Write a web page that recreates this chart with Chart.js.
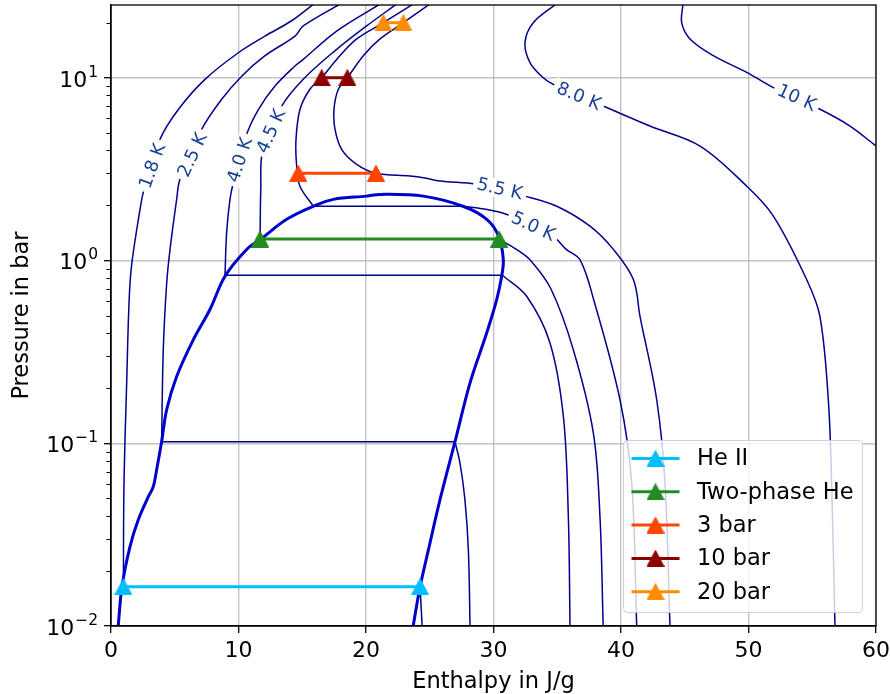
<!DOCTYPE html>
<html>
<head>
<meta charset="utf-8">
<script src="https://cdn.jsdelivr.net/npm/chart.js@4.4.1/dist/chart.umd.min.js"></script>
<style>
  html, body { margin: 0; padding: 0; background: #fff; }
  canvas { display: block; }
</style>
</head>
<body>
<canvas id="phChart" width="890" height="694"></canvas>
<script>
// helium p-h diagram: isotherms, saturation dome and cycle states
// enthalpy h in J/g, pressure p in bar

// saturation dome (left = liquid, right = vapour)
const domeH = [0.57, 0.86, 1.49, 2.14, 2.93, 3.32, 3.58, 3.97, 4.37, 5.15, 6.46, 7.76, 8.94, 10.64, 11.69, 13.78, 15.87, 17.44, 20.05, 21.1, 24.5, 27.6, 29.47, 30.4, 30.77, 30.64, 30.25, 29.47, 28.16, 26.98, 25.8, 24.89, 24.24, 23.71];
const domeP = [0.0101, 0.0164, 0.0272, 0.0381, 0.051, 0.058, 0.0716, 0.102, 0.153, 0.232, 0.369, 0.539, 0.82, 1.149, 1.30, 1.68, 1.98, 2.16, 2.25, 2.30, 2.25, 1.98, 1.68, 1.36, 1.01, 0.82, 0.611, 0.402, 0.214, 0.102, 0.049, 0.026, 0.0164, 0.0101];

// isotherms: liquid branch (top down to saturation), vapour branch (saturation down)
const t18LiqH = [15.9, 14.17, 12.08, 9.99, 7.37, 5.28, 3.84, 2.67, 2.41, 1.62, 1.42, 1.23, 1.02, 0.97];
const t18LiqP = [25.3, 20.5, 16.9, 13.7, 9.8, 6.7, 4.6, 2.55, 2.16, 0.95, 0.6, 0.214, 0.06, 0.0164];
const t18VapH = [24.24, 24.4];
const t18VapP = [0.0164, 0.0101];

const t25LiqH = [17.96, 15.08, 14.43, 12.08, 10.25, 8.68, 7.11, 5.41, 5.15, 4.63, 4.37, 4.1, 3.97];
const t25LiqP = [25.3, 19.2, 16.9, 13.2, 10.2, 7.62, 5.22, 2.78, 2.16, 1.15, 0.755, 0.325, 0.102];
const t25VapH = [26.98, 27.37, 27.76, 28.03, 28.16];
const t25VapP = [0.102, 0.078, 0.049, 0.026, 0.0101];

const t40LiqH = [21.1, 17.7, 15.08, 14.43, 12.86, 11.56, 10.64, 9.6, 9.33, 9.07, 8.94];
const t40LiqP = [25.3, 18.0, 12.6, 11.6, 9.0, 6.7, 4.9, 2.67, 2.16, 1.42, 0.83];
const t40VapH = [30.7, 32.6, 34.43, 35.48, 35.87, 36.0];
const t40VapP = [0.83, 0.637, 0.354, 0.140, 0.0397, 0.0101];

const t45LiqH = [22.4, 20.05, 17.7, 15.08, 13.39, 11.9, 11.75, 11.69];
const t45LiqP = [25.3, 19.2, 14.3, 9.82, 7.0, 4.0, 2.5, 1.31];
const t45VapH = [30.45, 31.8, 32.86, 34.5, 36.26, 37.83, 38.35, 38.6];
const t45VapP = [1.31, 1.15, 1.01, 0.7, 0.325, 0.114, 0.0397, 0.0101];

const t50LiqH = [23.7, 21.36, 19.27, 17.7, 16.52, 15.6, 14.82, 14.51, 14.56, 14.82, 15.87];
const t50LiqP = [25.3, 20.0, 16.3, 12.6, 10.0, 8.65, 6.7, 4.6, 3.29, 2.55, 1.98];
const t50VapH = [27.6, 29.5, 31.0, 33.1, 34.82, 35.7, 36.78, 37.83, 39.92, 40.84, 41.23];
const t50VapP = [1.98, 1.9, 1.79, 1.54, 1.33, 1.15, 1.01, 0.62, 0.173, 0.0605, 0.0101];

const t55H = [25.0, 22.93, 21.1, 19.79, 18.54, 17.83, 17.49, 17.57, 18.09, 19.27, 20.78, 23.45, 24.5, 25.8, 28.7, 32.47, 34.96, 37.57, 39.4, 40.97, 41.49, 42.8, 43.45, 43.84];
const t55P = [25.3, 20.0, 16.3, 13.2, 10.0, 8.65, 6.72, 5.22, 4.06, 3.36, 3.0, 2.9, 2.84, 2.72, 2.61, 2.25, 1.98, 1.54, 1.15, 0.787, 0.495, 0.173, 0.0605, 0.0101];

const t80H = [34.9, 33.12, 32.47, 32.86, 33.9, 34.82, 38.61, 42.27, 46.2, 49.86, 51.95, 54.56, 55.6, 56.26, 56.52, 56.78];
const t80P = [25.3, 20.0, 15.6, 12.1, 10.0, 9.1, 7.0, 5.44, 4.23, 2.55, 1.75, 0.787, 0.495, 0.173, 0.0605, 0.0101];

const t100H = [44.86, 44.76, 45.41, 47.24, 49.86, 51.95, 55.61, 57.96, 60.0];
const t100P = [25.3, 20.0, 16.3, 13.2, 10.7, 8.83, 6.72, 5.44, 4.23];

// contour labels
const labelText = ['1.8 K', '2.5 K', '4.0 K', '4.5 K', '5.0 K', '5.5 K', '8.0 K', '10 K'];
const labelH = [3.24, 6.38, 10.1, 12.55, 33.12, 30.5, 36.7, 53.78];
const labelP = [3.29, 3.78, 3.55, 5.1, 1.54, 2.47, 7.94, 7.79];

// cycle states
const cycleNames = ['He II', 'Two-phase He', '3 bar', '10 bar', '20 bar'];
const heIIH = [0.97, 24.24], heIIP = [0.0164, 0.0164];
const twoPhaseH = [11.69, 30.45], twoPhaseP = [1.31, 1.31];
const bar3H = [14.69, 20.78], bar3P = [3.0, 3.0];
const bar10H = [16.52, 18.54], bar10P = [10, 10];
const bar20H = [21.36, 22.93], bar20P = [20, 20];

const yTicks = [0.01, 0.1, 1, 10];

// ---- styling ----
const FONT = "'DejaVu Sans', sans-serif";
const isoColor = '#00008b';
const labelColor = '#173f94';
const labelAngle = [-70, -65, -72, -66, 25, 13, 23, 25];
const cycleColors = ['#00bfff', '#228b22', '#ff4500', '#8b0000', '#ff8c00'];

function pts(hs, ps) {
    return hs.map((h, i) => ({ x: h, y: ps[i] }));
}

function triangleMarker(color) {
    const c = document.createElement('canvas');
    c.width = 18;
    c.height = 17;
    const g = c.getContext('2d');
    g.fillStyle = color;
    g.strokeStyle = color;
    g.lineWidth = 1;
    g.beginPath();
    g.moveTo(9, 0.5);
    g.lineTo(17.5, 16.5);
    g.lineTo(0.5, 16.5);
    g.closePath();
    g.fill();
    g.stroke();
    return c;
}

function isoLine(hs, ps, tension) {
    return {
        data: pts(hs, ps),
        borderColor: isoColor,
        borderWidth: 1.5,
        pointRadius: 0,
        tension: tension,
        fill: false
    };
}

const cycles = [
    [heIIH, heIIP], [twoPhaseH, twoPhaseP], [bar3H, bar3P], [bar10H, bar10P], [bar20H, bar20P]
];
const markers = cycleColors.map(triangleMarker);

const datasets = [];
cycles.forEach((c, i) => {
    datasets.push({
        label: cycleNames[i],
        data: pts(c[0], c[1]),
        borderColor: cycleColors[i],
        backgroundColor: cycleColors[i],
        borderWidth: 3,
        pointStyle: markers[i],
        pointRadius: 9,
        tension: 0,
        fill: false
    });
});
datasets.push({
    data: pts(domeH, domeP),
    borderColor: '#0000cd',
    borderWidth: 3,
    pointRadius: 0,
    tension: 0.35,
    fill: false
});

const isotherms = [
    [t18LiqH, t18LiqP, t18VapH, t18VapP],
    [t25LiqH, t25LiqP, t25VapH, t25VapP],
    [t40LiqH, t40LiqP, t40VapH, t40VapP],
    [t45LiqH, t45LiqP, t45VapH, t45VapP],
    [t50LiqH, t50LiqP, t50VapH, t50VapP],
    [t55H, t55P],
    [t80H, t80P],
    [t100H, t100P]
];
isotherms.forEach(t => {
    datasets.push(isoLine(t[0], t[1], 0.35));
    if (t.length > 2) {
        const n = t[0].length - 1;
        datasets.push(isoLine([t[0][n], t[2][0]], [t[1][n], t[3][0]], 0));
        datasets.push(isoLine(t[2], t[3], 0.35));
    }
});

const contourLabels = {
    id: 'contourLabels',
    afterDatasetsDraw(chart) {
        const { ctx, scales: { x, y } } = chart;
        ctx.save();
        ctx.font = '18px ' + FONT;
        labelText.forEach((txt, i) => {
            const px = x.getPixelForValue(labelH[i]);
            const py = y.getPixelForValue(labelP[i]);
            const w = ctx.measureText(txt).width;
            ctx.save();
            ctx.translate(px, py);
            ctx.rotate(labelAngle[i] * Math.PI / 180);
            ctx.fillStyle = '#fff';
            ctx.fillRect(-w / 2 - 4, -9, w + 8, 18);
            ctx.fillStyle = labelColor;
            ctx.textAlign = 'center';
            ctx.textBaseline = 'middle';
            ctx.fillText(txt, 0, 1);
            ctx.restore();
        });
        ctx.restore();
    }
};

const frameAndLegend = {
    id: 'frameAndLegend',
    afterDraw(chart) {
        const { ctx, chartArea: a, scales: { y } } = chart;
        ctx.save();
        // frame
        ctx.strokeStyle = '#000';
        ctx.lineWidth = 1.3;
        ctx.strokeRect(a.left, a.top, a.right - a.left, a.bottom - a.top);
        // minor log ticks
        ctx.lineWidth = 1;
        for (let d = -2; d <= 1; d++) {
            for (let k = 2; k <= 9; k++) {
                const v = k * Math.pow(10, d);
                if (v > y.max) continue;
                const py = Math.round(y.getPixelForValue(v)) + 0.5;
                ctx.beginPath();
                ctx.moveTo(a.left - 4.5, py);
                ctx.lineTo(a.left, py);
                ctx.stroke();
            }
        }
        // y tick labels as 10 with a raised exponent
        ctx.fillStyle = '#000';
        ctx.textAlign = 'left';
        ctx.textBaseline = 'alphabetic';
        yTicks.forEach(v => {
            const e = Math.round(Math.log10(v));
            const expStr = (e < 0 ? '\u2212' : '') + Math.abs(e);
            const py = y.getPixelForValue(v);
            ctx.font = '15.5px ' + FONT;
            const wExp = ctx.measureText(expStr).width;
            ctx.font = '22px ' + FONT;
            const wBase = ctx.measureText('10').width;
            const x0 = 98 - wExp - wBase - 1;
            ctx.fillText('10', x0, py + 9);
            ctx.font = '15.5px ' + FONT;
            ctx.fillText(expStr, x0 + wBase + 1, py - 1);
        });
        // axis titles
        ctx.font = '22.5px ' + FONT;
        ctx.textAlign = 'center';
        ctx.textBaseline = 'middle';
        ctx.fillText('Enthalpy in J/g', (a.left + a.right) / 2, 682);
        ctx.save();
        ctx.translate(22, (a.top + a.bottom) / 2);
        ctx.rotate(-Math.PI / 2);
        ctx.fillText('Pressure in bar', 0, 0);
        ctx.restore();
        // legend
        const bx = 623.5, by = 440.5, bw = 239, bh = 172;
        ctx.beginPath();
        ctx.roundRect(bx, by, bw, bh, 4);
        ctx.fillStyle = 'rgba(255,255,255,0.8)';
        ctx.fill();
        ctx.strokeStyle = 'rgba(204,204,204,0.9)';
        ctx.lineWidth = 1;
        ctx.stroke();
        ctx.textAlign = 'left';
        ctx.font = '22.5px ' + FONT;
        cycleNames.forEach((name, i) => {
            const ry = 458.5 + i * 33.3;
            ctx.strokeStyle = cycleColors[i];
            ctx.lineWidth = 3;
            ctx.beginPath();
            ctx.moveTo(631.5, ry);
            ctx.lineTo(679.5, ry);
            ctx.stroke();
            ctx.drawImage(markers[i], 655.5 - 9, ry - 8.5);
            ctx.fillStyle = '#000';
            ctx.fillText(name, 697, ry + 1);
        });
        ctx.restore();
    }
};

const ctx = document.getElementById('phChart').getContext('2d');
const phChart = new Chart(ctx, {
    type: 'line',
    data: { datasets: datasets },
    options: {
        responsive: false,
        animation: false,
        events: [],
        layout: { autoPadding: false, padding: { top: 5, right: 14, left: 0, bottom: 0 } },
        plugins: { legend: { display: false }, tooltip: { enabled: false } },
        scales: {
            x: {
                type: 'linear',
                min: 0,
                max: 60,
                ticks: { stepSize: 10, autoSkip: false, maxRotation: 0, padding: 5, color: '#000', font: { family: FONT, size: 22 } },
                grid: { color: 'rgba(176,176,176,0.75)', lineWidth: 1.4, tickColor: '#000', tickWidth: 1.3, tickLength: 7 },
                border: { color: '#000', width: 1.3 },
                afterFit: s => { s.height = 68; s.paddingLeft = 0; s.paddingRight = 0; }
            },
            y: {
                type: 'logarithmic',
                min: 0.01,
                max: 25,
                afterBuildTicks: s => { s.ticks = yTicks.map(v => ({ value: v, major: true })); },
                ticks: { display: false },
                grid: { color: 'rgba(176,176,176,0.75)', lineWidth: 1.4, tickColor: '#000', tickWidth: 1.3, tickLength: 7 },
                border: { color: '#000', width: 1.3 },
                afterFit: s => { s.width = 111; s.paddingTop = 0; s.paddingBottom = 0; }
            }
        }
    },
    plugins: [contourLabels, frameAndLegend]
});
</script>
</body>
</html>
